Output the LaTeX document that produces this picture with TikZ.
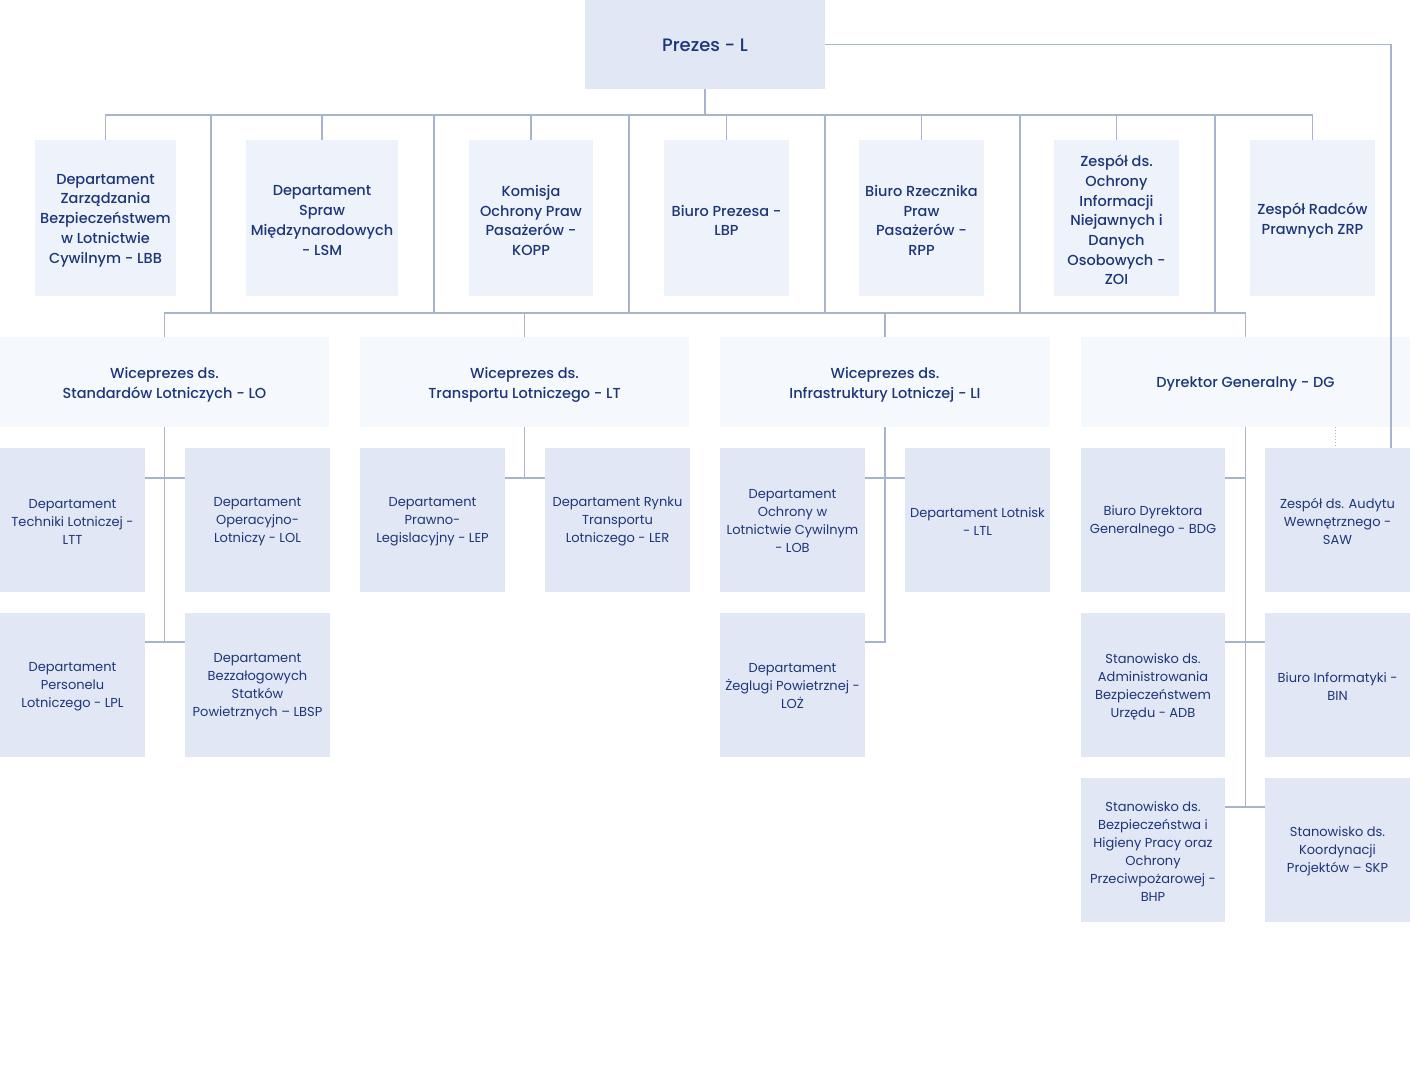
\documentclass[tikz,border=0pt]{standalone}
\usepackage{fontspec}
\setmainfont{Poppins}
\newfontfamily\pmed{Poppins Medium}
\usetikzlibrary{calc}
\definecolor{txt}{HTML}{1D3679}
\definecolor{cTop}{HTML}{E1E7F5}
\definecolor{cA}{HTML}{EEF3FB}
\definecolor{cB}{HTML}{F5F9FD}
\definecolor{cC}{HTML}{E2E7F5}
\definecolor{lineC}{HTML}{A7B4CB}
\newcommand\orgbox[8]{%
  \node[#6,minimum width={(#4)-(#2)},minimum height={(#5)-(#3)}] (#1) at ({((#2)+(#4))/2},{((#3)+(#5))/2}) {};
  \node[#6 txt] (#1-t) at ([yshift=-#7pt]#1.center) {#8};}
\begin{document}
\begin{tikzpicture}[x=1pt,y=-1pt,
  base/.style={inner sep=0pt,outer sep=0pt,align=center,text=txt},
  topbox/.style={base,fill=cTop},
  topbox txt/.style={base,font=\pmed\fontsize{18}{22}\selectfont},
  lvA/.style={base,fill=cA},
  lvA txt/.style={base,font=\pmed\fontsize{14.5}{19.7}\selectfont},
  lvB/.style={base,fill=cB},
  lvB txt/.style={base,font=\pmed\fontsize{14.5}{20}\selectfont},
  lvC/.style={base,fill=cC},
  lvC txt/.style={base,font=\fontsize{13}{18}\selectfont},
  conn/.style={draw=lineC,line width=1.3pt},
  dotconn/.style={draw=lineC,line width=1pt,dotted}]
\useasboundingbox[fill=white] (0,0) rectangle (1410,1087);

% top
\orgbox{L}{585}{0}{825}{89}{topbox}{1}{Prezes - L}

% level 1
\orgbox{LBB}{35}{140}{176}{296}{lvA}{2.5}{Departament\\Zarządzania\\Bezpieczeństwem\\w Lotnictwie\\Cywilnym - LBB}
\orgbox{LSM}{246}{140}{398}{296}{lvA}{2.5}{Departament\\Spraw\\Międzynarodowych\\- LSM}
\orgbox{KOPP}{469}{140}{593}{296}{lvA}{2.5}{Komisja\\Ochrony Praw\\Pasażerów -\\KOPP}
\orgbox{LBP}{664}{140}{789}{296}{lvA}{2.5}{Biuro Prezesa -\\LBP}
\orgbox{RPP}{859}{140}{984}{296}{lvA}{2.5}{Biuro Rzecznika\\Praw\\Pasażerów -\\RPP}
\orgbox{ZOI}{1054}{140}{1179}{296}{lvA}{2}{Zespół ds.\\Ochrony\\Informacji\\Niejawnych i\\Danych\\Osobowych -\\ZOI}
\orgbox{ZRP}{1250}{140}{1375}{296}{lvA}{2.5}{Zespół Radców\\Prawnych ZRP}

% level 2
\orgbox{LO}{0}{337}{329}{427}{lvB}{2.5}{Wiceprezes ds.\\Standardów Lotniczych - LO}
\orgbox{LT}{360}{337}{689}{427}{lvB}{2.5}{Wiceprezes ds.\\Transportu Lotniczego - LT}
\orgbox{LI}{720}{337}{1050}{427}{lvB}{2.5}{Wiceprezes ds.\\Infrastruktury Lotniczej - LI}
\orgbox{DG}{1081}{337}{1410}{427}{lvB}{2.5}{Dyrektor Generalny - DG}

% level 3
\orgbox{LTT}{0}{448}{145}{592}{lvC}{1.5}{Departament\\Techniki Lotniczej -\\LTT}
\orgbox{LOL}{185}{448}{330}{592}{lvC}{1.5}{Departament\\Operacyjno-\\Lotniczy - LOL}
\orgbox{LPL}{0}{613}{145}{757}{lvC}{1.5}{Departament\\Personelu\\Lotniczego - LPL}
\orgbox{LBSP}{185}{613}{330}{757}{lvC}{1.5}{Departament\\Bezzałogowych\\Statków\\Powietrznych – LBSP}
\orgbox{LEP}{360}{448}{505}{592}{lvC}{1.5}{Departament\\Prawno-\\Legislacyjny - LEP}
\orgbox{LER}{545}{448}{690}{592}{lvC}{1.5}{Departament Rynku\\Transportu\\Lotniczego - LER}
\orgbox{LOB}{720}{448}{865}{592}{lvC}{1.5}{Departament\\Ochrony w\\Lotnictwie Cywilnym\\- LOB}
\orgbox{LTL}{905}{448}{1050}{592}{lvC}{1.5}{Departament Lotnisk\\- LTL}
\orgbox{LOZ}{720}{613}{865}{757}{lvC}{1.5}{Departament\\Żeglugi Powietrznej -\\LOŻ}
\orgbox{BDG}{1081}{448}{1225}{592}{lvC}{1.5}{Biuro Dyrektora\\Generalnego - BDG}
\orgbox{SAW}{1265}{448}{1410}{592}{lvC}{1.5}{Zespół ds. Audytu\\Wewnętrznego -\\SAW}
\orgbox{ADB}{1081}{613}{1225}{757}{lvC}{1.5}{Stanowisko ds.\\Administrowania\\Bezpieczeństwem\\Urzędu - ADB}
\orgbox{BIN}{1265}{613}{1410}{757}{lvC}{1.5}{Biuro Informatyki -\\BIN}
\orgbox{BHP}{1081}{778}{1225}{922}{lvC}{1.5}{Stanowisko ds.\\Bezpieczeństwa i\\Higieny Pracy oraz\\Ochrony\\Przeciwpożarowej -\\BHP}
\orgbox{SKP}{1265}{778}{1410}{922}{lvC}{1.5}{Stanowisko ds.\\Koordynacji\\Projektów – SKP}

% buses
\coordinate (busA) at (705,115);
\coordinate (busB) at (705,313);
\draw[conn] (L.south) -- (busA);
\draw[conn] (LBB.north) -- (LBB.north |- busA) -- (ZRP.north |- busA) -- (ZRP.north);
\foreach \n in {LSM,KOPP,LBP,RPP,ZOI}{\draw[conn] (\n.north) -- (\n.north |- busA);}
\foreach \xx in {211,434,629,825,1020,1215}{\draw[conn] (\xx,115) -- (\xx,313);}
\draw[conn] (LO.north) -- (LO.north |- busB) -- (DG.north |- busB) -- (DG.north);
\foreach \n in {LT,LI}{\draw[conn] (\n.north) -- (\n.north |- busB);}

% Prezes to audit
\draw[conn] (L.east) -| ([xshift=53.5pt]SAW.north);
\draw[dotconn] ([xshift=89.5pt]DG.south) -- ([xshift=89.5pt]DG.south |- SAW.north);

% LO group
\draw[conn] (LO.south) |- ([shift={(0,29)}]LPL.north east);
\draw[conn] ([shift={(0,29)}]LPL.north east) -- ([shift={(0,29)}]LBSP.north west);
\draw[conn] ([shift={(0,30)}]LTT.north east) -- ([shift={(0,30)}]LOL.north west);
% LT group
\draw[conn] (LT.south) |- ([shift={(0,30)}]LEP.north east);
\draw[conn] ([shift={(0,30)}]LEP.north east) -- ([shift={(0,30)}]LER.north west);
% LI group
\draw[conn] (LI.south) |- ([shift={(0,29)}]LOZ.north east);
\draw[conn] ([shift={(0,30)}]LOB.north east) -- ([shift={(0,30)}]LTL.north west);
% DG group
\draw[conn] (DG.south) |- ([shift={(0,29)}]BHP.north east);
\draw[conn] ([shift={(0,30)}]BDG.north east) -| (DG.south);
\draw[conn] ([shift={(0,29)}]ADB.north east) -- ([shift={(0,29)}]BIN.north west);
\draw[conn] ([shift={(0,29)}]BHP.north east) -- ([shift={(0,29)}]SKP.north west);
\end{tikzpicture}
\end{document}
